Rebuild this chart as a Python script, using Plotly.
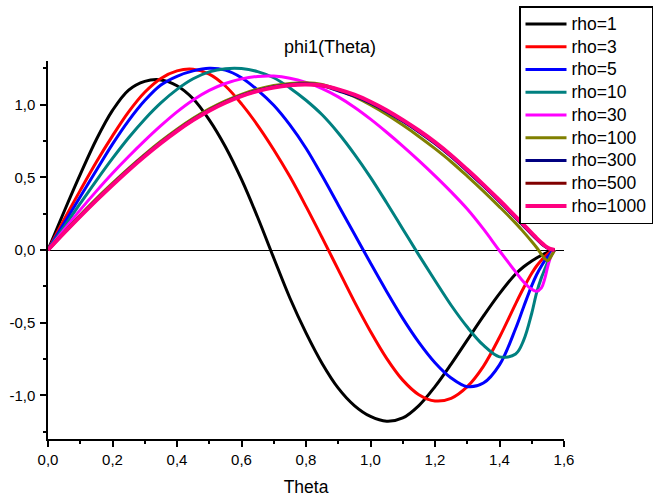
import plotly.graph_objects as go

# Theta grid (x values)
theta = [0, 0.05, 0.10, 0.15, 0.20, 0.25, 0.30, 0.35, 0.40, 0.45, 0.50, 0.55, 0.60, 0.65,
         0.70, 0.75, 0.80, 0.85, 0.90, 0.95, 1.00, 1.05, 1.10, 1.15, 1.20, 1.25, 1.30, 1.35,
         1.40, 1.45, 1.475, 1.50, 1.515, 1.53, 1.54, 1.55, 1.56, 1.5708]

rho_1 = [0, 0.265, 0.52, 0.76, 0.96, 1.1, 1.16, 1.17, 1.13, 1.04, 0.895, 0.71, 0.485, 0.225,
         -0.055, -0.33, -0.57, -0.78, -0.95, -1.07, -1.145, -1.178, -1.155, -1.07, -0.94, -0.785,
         -0.62, -0.455, -0.3, -0.165, -0.115, -0.075, -0.055, -0.036, -0.025, -0.015, -0.007, 0]
rho_3 = [0, 0.21, 0.41, 0.605, 0.785, 0.95, 1.085, 1.18, 1.232, 1.243, 1.21, 1.128, 1.005, 0.858,
         0.69, 0.505, 0.3, 0.085, -0.135, -0.355, -0.56, -0.745, -0.895, -0.995, -1.038, -1.02,
         -0.94, -0.8, -0.6, -0.37, -0.26, -0.16, -0.11, -0.07, -0.045, -0.025, -0.01, 0]
rho_5 = [0, 0.183, 0.366, 0.548, 0.728, 0.89, 1.028, 1.135, 1.195, 1.232, 1.25, 1.237, 1.185, 1.1,
         0.995, 0.86, 0.7, 0.51, 0.31, 0.11, -0.09, -0.285, -0.47, -0.635, -0.775, -0.88,
         -0.94, -0.915, -0.79, -0.54, -0.39, -0.245, -0.17, -0.11, -0.075, -0.045, -0.018, 0]
rho_10 = [0, 0.16, 0.32, 0.478, 0.63, 0.772, 0.9, 1.012, 1.105, 1.178, 1.225, 1.247, 1.248, 1.227,
          1.185, 1.115, 1.03, 0.93, 0.805, 0.66, 0.5, 0.325, 0.145, -0.035, -0.21, -0.38,
          -0.53, -0.655, -0.735, -0.715, -0.62, -0.435, -0.295, -0.19, -0.135, -0.08, -0.035, 0]
rho_30 = [0, 0.14, 0.276, 0.405, 0.528, 0.643, 0.752, 0.855, 0.95, 1.032, 1.098, 1.145, 1.177, 1.194,
          1.196, 1.182, 1.153, 1.11, 1.053, 0.982, 0.9, 0.81, 0.715, 0.615, 0.51, 0.4,
          0.282, 0.145, -0.005, -0.15, -0.22, -0.27, -0.283, -0.26, -0.2, -0.11, -0.04, 0]
rho_100 = [0, 0.121, 0.241, 0.354, 0.46, 0.562, 0.658, 0.748, 0.831, 0.906, 0.971, 1.026, 1.071, 1.106,
           1.131, 1.146, 1.151, 1.139, 1.102, 1.055, 0.998, 0.932, 0.859, 0.781, 0.697, 0.607,
           0.508, 0.405, 0.297, 0.185, 0.123, 0.058, 0.017, -0.03, -0.059, -0.074, -0.044, 0]
rho_300 = [0, 0.12, 0.236, 0.346, 0.452, 0.554, 0.65, 0.74, 0.823, 0.898, 0.963, 1.018, 1.063, 1.098,
           1.123, 1.138, 1.143, 1.131, 1.095, 1.058, 1.01, 0.952, 0.885, 0.812, 0.732, 0.642,
           0.543, 0.44, 0.332, 0.22, 0.164, 0.107, 0.074, 0.043, 0.025, 0.011, 0.003, 0]
rho_500 = [0, 0.118, 0.233, 0.343, 0.449, 0.551, 0.647, 0.737, 0.82, 0.895, 0.96, 1.015, 1.06, 1.095,
           1.12, 1.135, 1.14, 1.131, 1.102, 1.065, 1.017, 0.959, 0.892, 0.819, 0.739, 0.649,
           0.55, 0.447, 0.339, 0.227, 0.17, 0.113, 0.079, 0.047, 0.029, 0.014, 0.005, 0]
rho_1000 = [0, 0.117, 0.231, 0.341, 0.447, 0.549, 0.645, 0.735, 0.818, 0.893, 0.958, 1.013, 1.058, 1.093,
            1.118, 1.133, 1.138, 1.131, 1.105, 1.068, 1.02, 0.962, 0.895, 0.822, 0.742, 0.652,
            0.553, 0.45, 0.342, 0.23, 0.173, 0.116, 0.082, 0.05, 0.031, 0.016, 0.006, 0]

series_names = ["rho=1", "rho=3", "rho=5", "rho=10", "rho=30", "rho=100", "rho=300", "rho=500", "rho=1000"]
series_values = [rho_1, rho_3, rho_5, rho_10, rho_30, rho_100, rho_300, rho_500, rho_1000]
series_colors = ["#000000", "#FF0000", "#0000FF", "#008080", "#FF00FF", "#808000", "#000080", "#800000", "#FF0080"]
series_widths = [3, 3, 3, 3, 3, 3, 3, 3, 4]

x_tickvals = [0, 0.2, 0.4, 0.6, 0.8, 1.0, 1.2, 1.4, 1.6]
x_ticktext = ["0,0", "0,2", "0,4", "0,6", "0,8", "1,0", "1,2", "1,4", "1,6"]
y_tickvals = [-1.0, -0.5, 0.0, 0.5, 1.0]
y_ticktext = ["-1,0", "-0,5", "0,0", "0,5", "1,0"]

fig = go.Figure()
for name, vals, col, w in zip(series_names, series_values, series_colors, series_widths):
    fig.add_trace(go.Scatter(x=theta, y=vals, mode="lines",
                             name='<span style="font-size:17.5px">' + name + '</span>',
                             line=dict(color=col, width=w, shape="spline", smoothing=1.0)))

W, H = 654, 497
ml, mr, mt, mb = 48, 90, 61, 58
pw, ph = W - ml - mr, H - mt - mb

fig.update_layout(
    width=W, height=H,
    margin=dict(l=ml, r=mr, t=mt, b=mb, pad=0, autoexpand=False),
    plot_bgcolor="white", paper_bgcolor="white",
    font=dict(family="Liberation Sans, Arial, sans-serif", size=15, color="black"),
    title=dict(text="phi1(Theta)", x=330 / W, y=1 - 47 / H, xref="container", yref="container",
               xanchor="center", yanchor="middle", font=dict(size=18, color="black")),
    legend=dict(x=(653 - ml) / pw, y=(H - mb - 6) / ph, xanchor="right", yanchor="top",
                bgcolor="white", bordercolor="black", borderwidth=1.5,
                font=dict(size=15.2), itemwidth=41, tracegroupgap=0),
    showlegend=True,
)
fig.update_xaxes(range=[0, 1.6], showline=True, linecolor="black", linewidth=1.5, mirror=False,
                 ticks="outside", ticklen=6, tickwidth=1.5, tickcolor="black",
                 tickmode="array", tickvals=x_tickvals, ticktext=x_ticktext,
                 minor=dict(ticks="outside", ticklen=3, tickwidth=1.5, tickcolor="black",
                            tickmode="linear", tick0=0, dtick=0.1, showgrid=False),
                 showgrid=False, zeroline=False, automargin=False,
                 title=dict(text="Theta", font=dict(size=17.5), standoff=18))
fig.update_yaxes(range=[-1.3, 1.3], showline=True, linecolor="black", linewidth=1.5, mirror=False,
                 ticks="outside", ticklen=6, tickwidth=1.5, tickcolor="black",
                 tickmode="array", tickvals=y_tickvals, ticktext=y_ticktext,
                 minor=dict(ticks="outside", ticklen=3, tickwidth=1.5, tickcolor="black",
                            tickmode="linear", tick0=0.25, dtick=0.5, showgrid=False),
                 showgrid=False, zeroline=True, zerolinecolor="black", zerolinewidth=1,
                 automargin=False, ticklabelstandoff=2)

fig.write_html("out.html", config={"displayModeBar": False},
               post_script="document.body.style.margin='0px';")
